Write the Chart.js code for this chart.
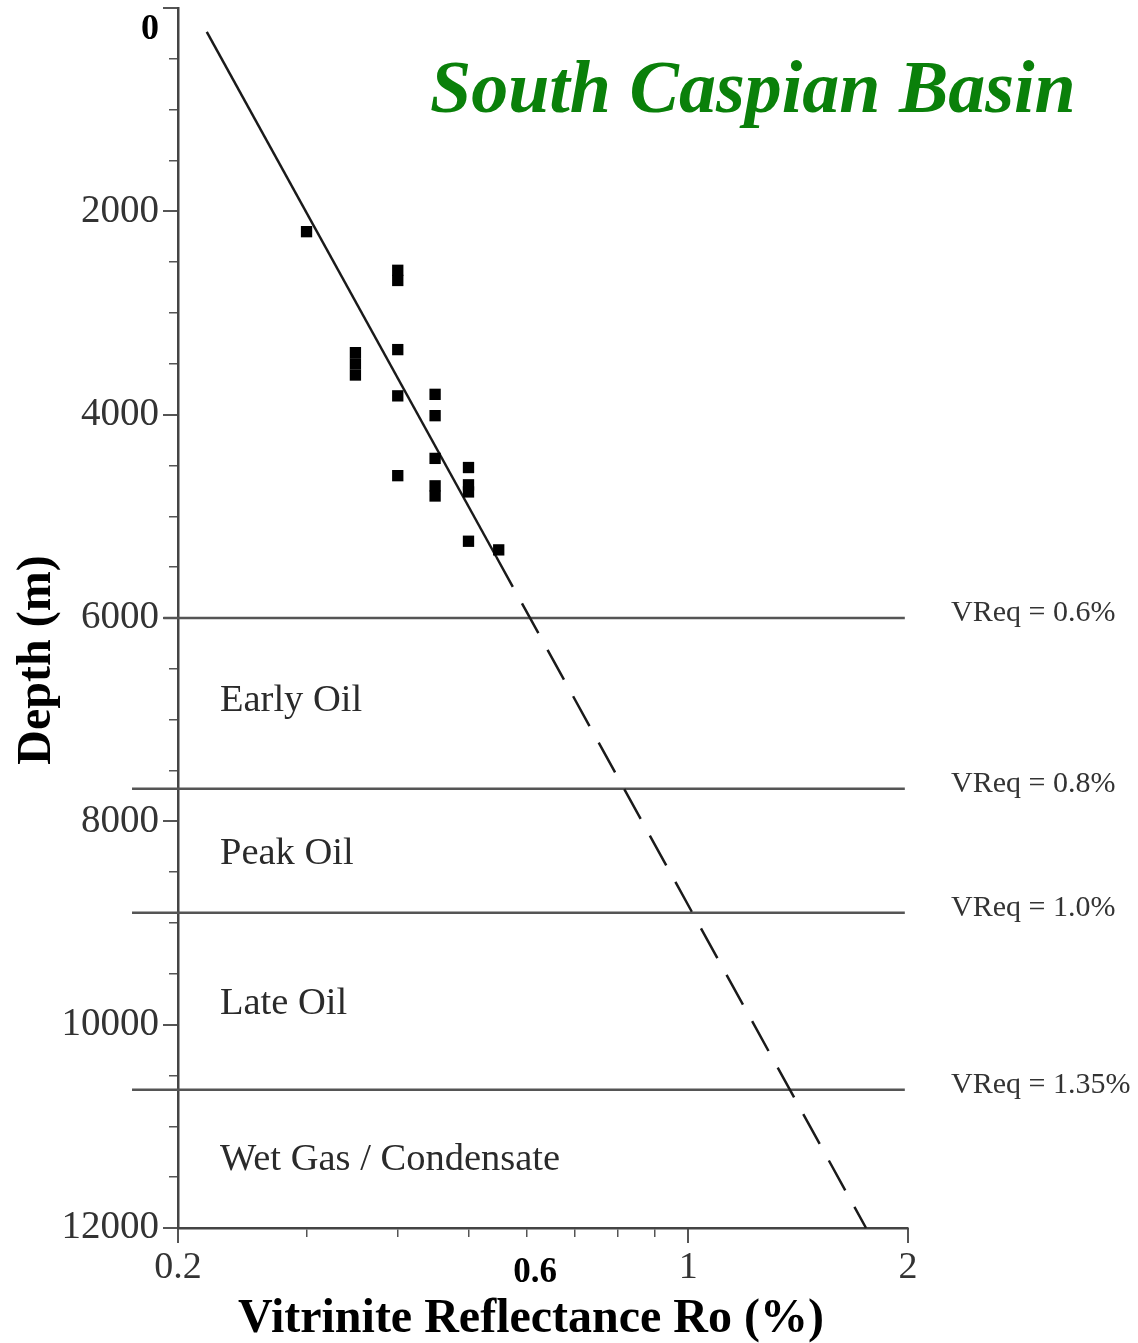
<!DOCTYPE html>
<html>
<head>
<meta charset="utf-8">
<title>South Caspian Basin</title>
<script src="https://cdn.jsdelivr.net/npm/chart.js@4.4.1/dist/chart.umd.min.js"></script>
<style>
  html, body { margin: 0; padding: 0; background: #fff; }
  #wrap { width: 1138px; height: 1343px; position: relative; }
</style>
</head>
<body>
<div id="wrap"><canvas id="vrChart" width="1138" height="1343"></canvas></div>
<script>
// measured samples (Ro %, depth m)
const sampleRo    = [0.30, 0.40, 0.40, 0.35, 0.35, 0.35, 0.40, 0.40, 0.45, 0.45, 0.45, 0.40, 0.45, 0.45, 0.50, 0.50, 0.50, 0.50, 0.55];
const sampleDepth = [2200, 2580, 2680, 3390, 3500, 3610, 3360, 3815, 3800, 4010, 4430, 4600, 4700, 4800, 4520, 4690, 4760, 5245, 5330];

// trend line: solid through the data, dashed extrapolation below
const trendRo    = [0.219, 0.546, 1.752];
const trendDepth = [235, 5400, 12000];

// maturity zone boundaries
const zoneDepths = [6000, 7680, 8900, 10640];
const zoneVReq   = ['VReq = 0.6%', 'VReq = 0.8%', 'VReq = 1.0%', 'VReq = 1.35%'];
const zoneNames  = ['Early Oil', 'Peak Oil', 'Late Oil', 'Wet Gas / Condensate'];
const zoneLabelDepths = [6820, 8320, 9800, 11330];

// axis ticks
const depthMajorTicks = [0, 2000, 4000, 6000, 8000, 10000, 12000];
const depthMinorTicks = [500, 1000, 1500, 2500, 3000, 3500, 4500, 5000, 5500, 6500, 7000, 7500, 8500, 9000, 9500, 10500, 11000, 11500];
const roMajorTicks = [0.2, 0.6, 1, 2];
const roMinorTicks = [0.3, 0.4, 0.5, 0.6, 0.7, 0.8, 0.9];

const SERIF = '"Liberation Serif", "DejaVu Serif", serif';
const lineLeftRo = 0.173;
const lineRightRo = 1.98;

const points = sampleRo.map((r, i) => ({ x: r, y: sampleDepth[i] }));
const trend = trendRo.map((r, i) => ({ x: r, y: trendDepth[i] }));

const zoneSets = zoneDepths.map(d => ({
    type: 'line',
    data: [{ x: d === 6000 ? 0.191 : lineLeftRo, y: d }, { x: lineRightRo, y: d }],
    borderColor: '#555',
    borderWidth: 2.5,
    pointRadius: 0,
    clip: false,
    order: 3
}));

// text that sits on top of the plot
const textPlugin = {
    id: 'textPlugin',
    afterDraw(chart) {
        const ctx = chart.ctx;
        const ys = chart.scales.y;
        ctx.save();

        // zone names
        ctx.fillStyle = '#2a2a2a';
        ctx.font = '38.5px ' + SERIF;
        ctx.textAlign = 'left';
        ctx.textBaseline = 'middle';
        zoneNames.forEach((n, i) => {
            ctx.fillText(n, 220, ys.getPixelForValue(zoneLabelDepths[i]));
        });

        // VReq labels
        ctx.font = '30px ' + SERIF;
        ctx.fillStyle = '#333';
        zoneVReq.forEach((t, i) => {
            ctx.fillText(t, 951, ys.getPixelForValue(zoneDepths[i]) - 5);
        });

        // title
        ctx.fillStyle = '#0a800a';
        ctx.font = 'italic bold 74px ' + SERIF;
        ctx.textAlign = 'left';
        ctx.textBaseline = 'alphabetic';
        ctx.fillText('South Caspian Basin', 430, 112);

        // axis titles
        ctx.fillStyle = '#000';
        ctx.font = 'bold 48px ' + SERIF;
        ctx.textAlign = 'center';
        ctx.textBaseline = 'middle';
        ctx.fillText('Vitrinite Reflectance Ro (%)', 531, 1320);

        ctx.translate(38, 660);
        ctx.rotate(-Math.PI / 2);
        ctx.font = 'bold 48px ' + SERIF;
        ctx.fillText('Depth (m)', 0, 0);
        ctx.restore();
    }
};

new Chart(document.getElementById('vrChart'), {
    type: 'scatter',
    data: {
        datasets: [
            {
                label: 'samples',
                data: points,
                pointStyle: 'rect',
                pointRadius: 8,
                backgroundColor: '#000',
                borderColor: '#000',
                borderWidth: 0,
                order: 1
            },
            {
                type: 'line',
                label: 'trend',
                data: trend,
                borderColor: '#1a1a1a',
                borderWidth: 2.5,
                pointRadius: 0,
                clip: false,
                segment: {
                    borderDash: ctx => ctx.p0DataIndex === 1 ? [34, 19] : undefined
                },
                order: 2
            },
            ...zoneSets
        ]
    },
    plugins: [textPlugin],
    options: {
        responsive: false,
        animation: false,
        layout: { padding: { top: 8, left: 0, right: 230, bottom: 0 } },
        plugins: {
            legend: { display: false },
            tooltip: { enabled: false }
        },
        scales: {
            // minor ticks on the depth axis
            y: {
                type: 'linear',
                position: 'left',
                reverse: true,
                min: 0,
                max: 12000,
                weight: 0,
                afterBuildTicks: s => { s.ticks = depthMinorTicks.map(v => ({ value: v })); },
                afterFit: s => { s.width = 0; s.paddingTop = 0; s.paddingBottom = 0; },
                ticks: { display: false },
                grid: { drawOnChartArea: false, tickLength: 9, color: '#555', lineWidth: 1.5 },
                border: { display: true, color: '#444', width: 2.5 }
            },
            // major ticks with labels
            y2: {
                type: 'linear',
                position: 'left',
                reverse: true,
                min: 0,
                max: 12000,
                weight: 1,
                afterBuildTicks: s => { s.ticks = depthMajorTicks.map(v => ({ value: v })); },
                afterFit: s => { s.width = 178; s.paddingTop = 0; s.paddingBottom = 0; },
                ticks: {
                    padding: 4,
                    color: ctx => ctx.tick.value === 0 ? '#000' : '#333',
                    font: ctx => ctx.tick && ctx.tick.value === 0
                        ? { family: SERIF, size: 36, weight: 'bold', lineHeight: 1.2 }
                        : { family: SERIF, size: 39 },
                    callback: v => v === 0 ? ['', '0'] : String(v)
                },
                grid: { drawOnChartArea: false, tickLength: 15, color: '#555', lineWidth: 2 },
                border: { display: false }
            },
            x: {
                type: 'logarithmic',
                position: 'bottom',
                min: 0.2,
                max: 2,
                weight: 0,
                afterBuildTicks: s => { s.ticks = roMinorTicks.map(v => ({ value: v })); },
                afterFit: s => { s.height = 0; s.paddingLeft = 0; s.paddingRight = 0; },
                ticks: { display: false },
                grid: { drawOnChartArea: false, tickLength: 9, color: '#555', lineWidth: 1.5 },
                border: { display: true, color: '#444', width: 2.5 }
            },
            x2: {
                type: 'logarithmic',
                position: 'bottom',
                min: 0.2,
                max: 2,
                weight: 1,
                afterBuildTicks: s => { s.ticks = roMajorTicks.map(v => ({ value: v })); },
                afterFit: s => { s.height = 1343 - 1228; s.paddingLeft = 0; s.paddingRight = 0; },
                ticks: {
                    padding: 2,
                    maxRotation: 0,
                    autoSkip: false,
                    color: ctx => ctx.tick.value === 0.6 ? '#000' : '#333',
                    font: ctx => ctx.tick && ctx.tick.value === 0.6
                        ? { family: SERIF, size: 35, weight: 'bold', lineHeight: 1.6 }
                        : { family: SERIF, size: 38 },
                    callback: v => v === 0.6 ? '  0.6' : String(v)
                },
                grid: {
                    drawOnChartArea: false,
                    tickLength: 15,
                    lineWidth: 2,
                    color: ctx => ctx.tick && ctx.tick.value === 0.6 ? 'rgba(0,0,0,0)' : '#555'
                },
                border: { display: false }
            }
        }
    }
});
</script>
</body>
</html>
